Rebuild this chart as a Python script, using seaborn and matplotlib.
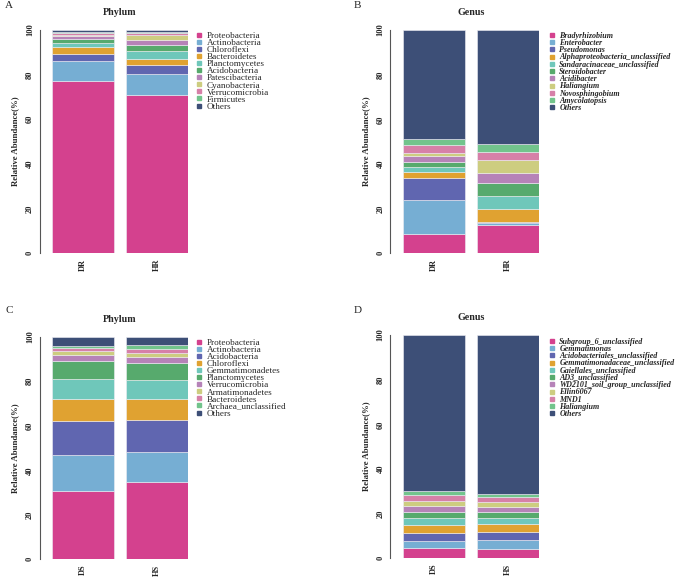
"""
Stacked relative-abundance bar charts (phylum / genus level) in a 2x2 panel layout.
"""

import matplotlib
matplotlib.use('Agg')
import matplotlib.pyplot as plt
from matplotlib.lines import Line2D
import seaborn as sns

# ---- data ----
samples_a = ['DR', 'HR']
taxa_a = ['Proteobacteria', 'Actinobacteria', 'Chloroflexi', 'Bacteroidetes', 'Planctomycetes',
          'Acidobacteria', 'Patescibacteria', 'Cyanobacteria', 'Verrucomicrobia', 'Firmicutes', 'Others']
dr_a = [77.0, 9.0, 3.1, 3.4, 1.6, 1.9, 1.3, 0.5, 0.8, 0.6, 0.8]
hr_a = [70.8, 9.4, 4.0, 2.8, 3.6, 2.7, 2.2, 2.3, 0.9, 0.5, 0.8]

samples_b = ['DR', 'HR']
taxa_b = ['Bradyrhizobium', 'Enterobacter', 'Pseudomonas', 'Alphaproteobacteria_unclassified',
          'Sandaracinaceae_unclassified', 'Steroidobacter', 'Acidibacter', 'Haliangium',
          'Novosphingobium', 'Amycolatopsis', 'Others']
dr_b = [8.5, 15.4, 10.0, 2.5, 2.1, 2.2, 2.9, 1.5, 3.4, 2.6, 48.9]
hr_b = [12.8, 0.6, 0.6, 5.7, 6.1, 5.7, 4.5, 5.8, 3.6, 3.7, 50.9]

samples_c = ['DS', 'HS']
taxa_c = ['Proteobacteria', 'Actinobacteria', 'Acidobacteria', 'Chloroflexi', 'Gemmatimonadetes',
          'Planctomycetes', 'Verrucomicrobia', 'Armatimonadetes', 'Bacteroidetes',
          'Archaea_unclassified', 'Others']
ds_c = [30.7, 16.1, 15.3, 9.7, 9.2, 8.0, 2.6, 1.8, 1.6, 0.9, 4.1]
hs_c = [34.7, 13.6, 14.3, 9.2, 8.7, 7.6, 2.9, 1.6, 1.8, 2.0, 3.6]

samples_d = ['DS', 'HS']
taxa_d = ['Subgroup_6_unclassified', 'Gemmatimonas', 'Acidobacteriales_unclassified',
          'Gemmatimonadaceae_unclassified', 'Gaiellales_unclassified', 'AD3_unclassified',
          'WD2101_soil_group_unclassified', 'Ellin6067', 'MND1', 'Haliangium', 'Others']
ds_d = [4.5, 3.4, 3.6, 3.3, 3.2, 2.9, 2.7, 2.1, 2.6, 1.7, 70.0]
hs_d = [4.0, 4.2, 3.7, 3.3, 2.8, 2.6, 2.4, 2.4, 1.9, 1.5, 71.2]

palette = ['#D4418E', '#76AED3', '#6066B0', '#E0A231', '#6FC7BA', '#57AA6D',
           '#B683B8', '#CDCD80', '#D680A8', '#72C48C', '#3D4F77']

sns.set_style('white')
plt.rcParams['font.family'] = ['Liberation Serif', 'DejaVu Serif']

W, H = 685, 579
fig = plt.figure(figsize=(W / 100, H / 100), dpi=100)


def stacked_panel(rect, samples, taxa, v1, v2, title, letter, legend_xy, italic):
    ax = fig.add_axes(rect)
    bottoms = [0.0, 0.0]
    for i, name in enumerate(taxa):
        vals = [v1[i], v2[i]]
        sns.barplot(x=samples, y=vals, bottom=bottoms, color=palette[i], width=0.838,
                    errorbar=None, saturation=1, edgecolor='#EEEEF4', linewidth=0.4, ax=ax)
        bottoms = [bottoms[0] + vals[0], bottoms[1] + vals[1]]

    ax.set_xlim(-0.419, 1.419)
    ax.set_ylim(0, 100)
    ax.set_yticks([0, 20, 40, 60, 80, 100])
    for s in ['top', 'right', 'bottom']:
        ax.spines[s].set_visible(False)
    ax.spines['left'].set_position(('outward', 9))
    ax.spines['left'].set_color('#555555')
    ax.spines['left'].set_linewidth(0.8)
    ax.tick_params(axis='y', length=3, width=0.8, color='#555555', pad=1)
    ax.tick_params(axis='x', length=0, pad=4)
    for lab in ax.get_yticklabels():
        lab.set_rotation(90)
        lab.set_va('center')
        lab.set_fontsize(6)
        lab.set_fontweight('bold')
    for lab in ax.get_xticklabels():
        lab.set_rotation(90)
        lab.set_fontsize(6)
        lab.set_fontweight('bold')
    ax.set_xlabel('')
    ax.set_ylabel('Relative Abundance(%)', fontsize=6.3, fontweight='bold', labelpad=5)
    ax.set_title(title, fontsize=7.2, fontweight='bold', pad=10.5)

    fig.text(letter[0] / W, 1 - letter[1] / H, letter[2], fontsize=8, ha='left', va='center')

    handles = [Line2D([], [], marker='s', linestyle='', markersize=3.0, color=palette[i])
               for i in range(len(taxa))]
    if italic:
        prop = {'family': 'Liberation Serif', 'size': 5.8, 'style': 'italic', 'weight': 'bold'}
        spacing = -0.09
    else:
        prop = {'family': 'Liberation Serif', 'size': 6.6}
        spacing = -0.145
    ax.legend(handles, taxa, loc='upper left',
              bbox_to_anchor=(legend_xy[0] / W, 1 - legend_xy[1] / H),
              bbox_transform=fig.transFigure, frameon=False, borderpad=0, borderaxespad=0,
              handlelength=0.6, handletextpad=0.55, labelspacing=spacing, prop=prop)
    return ax


stacked_panel([52 / W, 326 / H, 136 / W, 223 / H], samples_a, taxa_a, dr_a, hr_a,
              'Phylum', (5, 6, 'A'), (196, 31.5), False)
stacked_panel([402.7 / W, 325.7 / H, 136.6 / W, 223.3 / H], samples_b, taxa_b, dr_b, hr_b,
              'Genus', (354, 6, 'B'), (550, 31.5), True)
stacked_panel([52 / W, 19.7 / H, 136 / W, 222.6 / H], samples_c, taxa_c, ds_c, hs_c,
              'Phylum', (5, 311, 'C'), (196, 338.5), False)
stacked_panel([402.7 / W, 20.7 / H, 136.6 / W, 223.3 / H], samples_d, taxa_d, ds_d, hs_d,
              'Genus', (354, 311, 'D'), (550, 337.5), True)

plt.savefig('out.png', dpi=100)
plt.close()
print("Saved out.png")
